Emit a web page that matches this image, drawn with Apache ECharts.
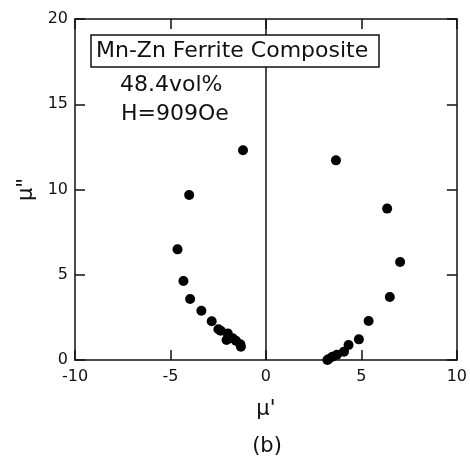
<!DOCTYPE html>
<html>
<head>
<meta charset="utf-8">
<script src="https://cdn.jsdelivr.net/npm/echarts@6/dist/echarts.min.js"></script>
<style>
  html, body { margin: 0; padding: 0; background: #fff; }
  #chart { width: 470px; height: 457px; }
</style>
</head>
<body>
<div id="chart"></div>
<script>
// Real (mu') and imaginary (mu'') permeability, left and right branches
const muRealLeft = [-1.2, -4.02, -4.63, -4.32, -3.97, -3.38, -2.84, -2.49, -2.37, -2.0, -2.06, -1.74, -1.57, -1.34, -1.31];
const muImagLeft = [12.3, 9.68, 6.49, 4.63, 3.58, 2.89, 2.27, 1.80, 1.72, 1.56, 1.17, 1.27, 1.13, 0.92, 0.78];
const muRealRight = [3.67, 6.35, 7.03, 6.49, 5.38, 4.87, 4.33, 4.09, 3.72, 3.48, 3.27, 3.22];
const muImagRight = [11.71, 8.88, 5.75, 3.70, 2.29, 1.21, 0.88, 0.49, 0.31, 0.19, 0.04, 0.0];

const xTicks = [-10, -5, 0, 5, 10];
const yTicks = [0, 5, 10, 15, 20];

const titleText = 'Mn-Zn Ferrite Composite';
const volText = '48.4vol%';
const fieldText = 'H=909Oe';
const xName = "\u03bc'";
const yName = "\u03bc\"";
const panelLabel = '(b)';

const FONT = '"DejaVu Sans", sans-serif';

const points = [];
muRealLeft.forEach((v, i) => points.push([v, muImagLeft[i]]));
muRealRight.forEach((v, i) => points.push([v, muImagRight[i]]));

const axisLine = { show: true, onZero: false, lineStyle: { color: '#111', width: 1.5 } };
const inTick = { show: true, inside: true, length: 10, lineStyle: { color: '#111', width: 1.5 } };

const chart = echarts.init(document.getElementById('chart'), null, { renderer: 'canvas' });
chart.setOption({
  animation: false,
  backgroundColor: '#fff',
  grid: { left: 75, right: 13, top: 19, bottom: 97, containLabel: false },
  xAxis: [
    {
      type: 'value', min: xTicks[0], max: xTicks[xTicks.length - 1], interval: 5,
      position: 'bottom',
      axisLine, axisTick: inTick,
      axisLabel: { color: '#111', fontSize: 16, fontFamily: FONT, margin: 9 },
      splitLine: { show: false },
      name: xName, nameLocation: 'middle', nameGap: 39,
      nameTextStyle: { color: '#111', fontSize: 21, fontFamily: FONT }
    },
    {
      type: 'value', min: xTicks[0], max: xTicks[xTicks.length - 1], interval: 5,
      position: 'top',
      axisLine, axisTick: inTick,
      axisLabel: { show: false }, splitLine: { show: false }
    }
  ],
  yAxis: [
    {
      type: 'value', min: yTicks[0], max: yTicks[yTicks.length - 1], interval: 5,
      position: 'left',
      axisLine, axisTick: inTick,
      axisLabel: { color: '#111', fontSize: 16, fontFamily: FONT, margin: 7 },
      splitLine: { show: false },
      name: yName, nameLocation: 'middle', nameGap: 34, nameRotate: 90,
      nameTextStyle: { color: '#111', fontSize: 21, fontFamily: FONT }
    },
    {
      type: 'value', min: yTicks[0], max: yTicks[yTicks.length - 1], interval: 5,
      position: 'right',
      axisLine, axisTick: inTick,
      axisLabel: { show: false }, splitLine: { show: false }
    }
  ],
  series: [
    {
      type: 'scatter',
      data: points,
      symbol: 'circle',
      symbolSize: 10,
      clip: false,
      itemStyle: { color: '#000', opacity: 1 },
      markLine: {
        silent: true,
        symbol: 'none',
        label: { show: false },
        lineStyle: { color: '#111', width: 1.5, type: 'solid' },
        data: [{ xAxis: 0 }]
      }
    }
  ],
  graphic: [
    {
      type: 'rect',
      shape: { x: 91, y: 35, width: 288, height: 32 },
      style: { fill: '#fff', stroke: '#111', lineWidth: 1.5 },
      z: 10
    },
    {
      type: 'text', x: 96, y: 51, z: 11,
      style: { text: titleText, font: '22px ' + FONT, fill: '#111', textVerticalAlign: 'middle' }
    },
    {
      type: 'text', x: 120, y: 85, z: 11,
      style: { text: volText, font: '22px ' + FONT, fill: '#111', textVerticalAlign: 'middle' }
    },
    {
      type: 'text', x: 121, y: 114, z: 11,
      style: { text: fieldText, font: '22px ' + FONT, fill: '#111', textVerticalAlign: 'middle' }
    },
    {
      type: 'text', x: 267, y: 447, z: 11,
      style: { text: panelLabel, font: '21px ' + FONT, fill: '#111', textAlign: 'center', textVerticalAlign: 'middle' }
    }
  ]
});
</script>
</body>
</html>
